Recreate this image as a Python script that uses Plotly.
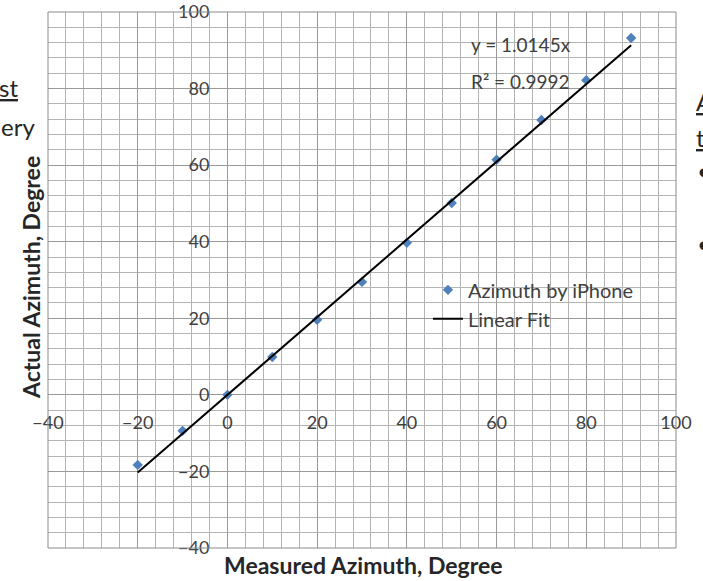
import plotly.graph_objects as go

# Measured vs actual azimuth (degrees)
measured = [-20, -10, 0, 10, 20, 30, 40, 50, 60, 70, 80, 90]
actual = [-18.3, -9.4, 0.0, 9.9, 19.6, 29.5, 39.7, 50.1, 61.4, 71.8, 82.2, 93.2]

slope = 1.0145
r_squared = 0.9992
fit_x = [min(measured), max(measured)]
fit_y = [slope * v for v in fit_x]

axis_ticks = [-40, -20, 0, 20, 40, 60, 80, 100]

FONT = "Lato, 'Open Sans', sans-serif"
GRID = "#9a9a9a"
MINOR = "#b4b4b4"
TEXT = "#404040"
DARK = "#262626"

W, H = 703, 581
ML, MR, MT, MB = 48, 27, 12, 33

fig = go.Figure()
fig.add_trace(go.Scatter(
    x=measured, y=actual, mode="markers", name="Azimuth by iPhone",
    marker=dict(symbol="diamond", size=8, color="#4F81BD"),
))
fig.add_trace(go.Scatter(
    x=fit_x, y=fit_y, mode="lines", name="Linear Fit",
    line=dict(color="black", width=2),
))

common_axis = dict(
    range=[-40, 100], tickvals=axis_ticks,
    showgrid=True, gridcolor=GRID, gridwidth=1,
    minor=dict(dtick=4, showgrid=True, gridcolor=MINOR, gridwidth=1, ticks=""),
    zeroline=False, showline=False, ticks="",
    anchor="free", position=40 / 140, automargin=False,
    ticklabeloverflow="allow",
    tickfont=dict(family=FONT, size=18, color=TEXT),
)

fig.update_layout(
    width=W, height=H,
    margin=dict(l=ML, r=MR, t=MT, b=MB),
    paper_bgcolor="white", plot_bgcolor="white",
    font=dict(family=FONT, size=18, color=TEXT),
    showlegend=True,
    legend=dict(x=0.605, y=0.518, xanchor="left", yanchor="top",
                bgcolor="rgba(0,0,0,0)", font=dict(family=FONT, size=20, color=TEXT),
                itemwidth=30, tracegroupgap=0),
    xaxis=dict(common_axis, ticklabelstandoff=15),
    yaxis=dict(common_axis, ticklabelstandoff=18),
    shapes=[dict(type="rect", xref="paper", yref="paper", x0=0, y0=0, x1=1, y1=1,
                 line=dict(color="#8a8a8a", width=1))],
)


def px_x(p):
    return (p - ML) / (W - ML - MR)


def px_y(p):
    return 1 - (p - MT) / (H - MT - MB)


def side_text(text, x, y, anchor):
    return dict(text=text, x=px_x(x), y=px_y(y), xref="paper", yref="paper",
                showarrow=False, xanchor=anchor, yanchor="middle",
                font=dict(family=FONT, size=24, color=DARK))


annotations = [
    dict(text=f"y = {slope:.4f}x", x=65.4, y=91.4, xref="x", yref="y",
         showarrow=False, font=dict(family=FONT, size=19, color=TEXT)),
    dict(text=f"R² = {r_squared:.4f}", x=65.4, y=81.8, xref="x", yref="y",
         showarrow=False, font=dict(family=FONT, size=19, color=TEXT)),
    dict(text="<b>Measured Azimuth, Degree</b>", x=px_x(363), y=px_y(565),
         xref="paper", yref="paper", xanchor="center", yanchor="middle",
         showarrow=False, font=dict(family=FONT, size=23, color=DARK)),
    dict(text="<b>Actual Azimuth, Degree</b>", x=px_x(31), y=px_y(278),
         xref="paper", yref="paper", xanchor="center", yanchor="middle",
         textangle=-90, showarrow=False,
         font=dict(family=FONT, size=23, color=DARK)),
    # neighbouring slide text at the edges
    side_text("<u>st</u>", 20, 88, "right"),
    side_text("ery", 37, 126, "right"),
    side_text("<u>A</u>", 694, 102, "left"),
    side_text("<u>t</u>", 694, 137, "left"),
    side_text("•", 695, 170, "left"),
    side_text("•", 695, 243, "left"),
]
fig.update_layout(annotations=annotations)

fig.write_html("out.html")
